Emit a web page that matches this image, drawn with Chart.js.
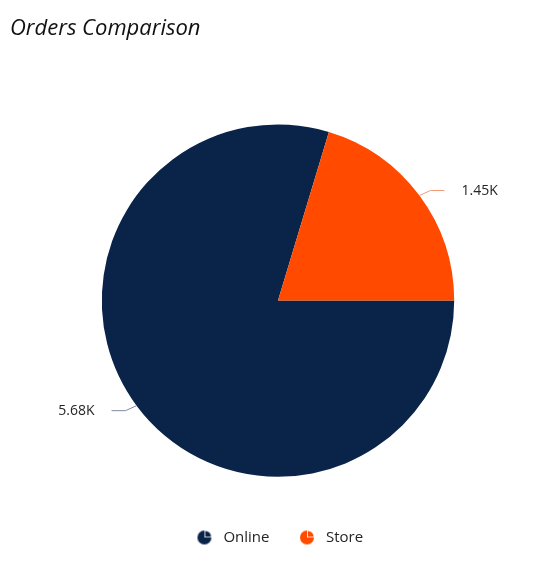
<!DOCTYPE html>
<html>
<head>
<meta charset="utf-8">
<script src="https://cdn.jsdelivr.net/npm/chart.js@4"></script>
<style>
html,body{margin:0;padding:0;background:#fff;}
#wrap{width:550px;height:577px;position:relative;}
</style>
</head>
<body>
<div id="wrap"><canvas id="c"></canvas></div>
<script>
const categories = ["Online", "Store"];
const orderValues = [5680, 1450];
const valueLabels = ["5.68K", "1.45K"];
const sliceColors = ["#0A2349", "#FF4A00"];
const leaderColors = ["#7F8A9E", "#F39A75"];
const titleText = "Orders Comparison";

function makeIcon(color) {
  const s = 16, c = document.createElement('canvas');
  c.width = s; c.height = s;
  const g = c.getContext('2d');
  const cx = 8, cy = 8, r = 7;
  g.fillStyle = color;
  g.beginPath(); g.moveTo(cx, cy); g.arc(cx, cy, r, 0, 1.5 * Math.PI, false); g.closePath(); g.fill();
  g.beginPath(); g.moveTo(cx + 0.8, cy - 0.8); g.arc(cx + 0.8, cy - 0.8, r - 1.2, 1.5 * Math.PI, 2 * Math.PI, false); g.closePath(); g.fill();
  return c;
}

const leaderPlugin = {
  id: 'leaders',
  afterDatasetsDraw(chart) {
    const ctx = chart.ctx;
    const meta = chart.getDatasetMeta(0);
    meta.data.forEach((arc, i) => {
      const p = arc.getProps(['x', 'y', 'startAngle', 'endAngle', 'outerRadius'], true);
      const mid = (p.startAngle + p.endAngle) / 2;
      const dx = Math.cos(mid), dy = Math.sin(mid);
      const x1 = p.x + dx * p.outerRadius, y1 = p.y + dy * p.outerRadius;
      const sx = dx >= 0 ? 1 : -1, sy = dy >= 0 ? 1 : -1;
      const x2 = x1 + sx * 11, y2 = y1 + sy * 5;
      const x3 = x2 + sx * 14;
      ctx.save();
      ctx.strokeStyle = leaderColors[i];
      ctx.lineWidth = 1;
      ctx.beginPath(); ctx.moveTo(x1, y1); ctx.lineTo(x2, y2); ctx.lineTo(x3, y2); ctx.stroke();
      ctx.fillStyle = '#252423';
      ctx.font = '14px "Segoe UI", "Open Sans", sans-serif';
      ctx.textBaseline = 'middle';
      ctx.textAlign = sx > 0 ? 'left' : 'right';
      ctx.fillText(valueLabels[i], x3 + sx * 17, y2);
      ctx.restore();
    });
  }
};

new Chart(document.getElementById('c'), {
  type: 'pie',
  data: {
    labels: categories,
    datasets: [{
      data: orderValues,
      backgroundColor: sliceColors,
      borderWidth: 0,
      hoverOffset: 0
    }]
  },
  plugins: [leaderPlugin],
  options: {
    responsive: true,
    maintainAspectRatio: false,
    animation: false,
    devicePixelRatio: 1,
    rotation: 90,
    layout: { padding: { left: 10, right: 4, top: 0, bottom: 22 } },
    plugins: {
      tooltip: { enabled: false },
      title: {
        display: true,
        text: titleText,
        align: 'start',
        color: '#111',
        font: { family: '"Segoe UI", "Open Sans", sans-serif', size: 22, style: 'italic', weight: 'normal' },
        padding: { top: 16, bottom: 82 }
      },
      legend: {
        display: true,
        position: 'bottom',
        title: { display: true, text: ' ', font: { size: 1 }, padding: 13 },
        labels: {
          usePointStyle: true,
          pointStyleWidth: 23,
          color: '#252423',
          font: { family: '"Segoe UI", "Open Sans", sans-serif', size: 15 },
          padding: 26,
          generateLabels(chart) {
            return categories.map((name, i) => ({
              text: name,
              fillStyle: sliceColors[i],
              strokeStyle: sliceColors[i],
              lineWidth: 0,
              pointStyle: makeIcon(sliceColors[i]),
              hidden: false,
              index: i,
              fontColor: '#252423'
            }));
          }
        }
      }
    }
  }
});
</script>
</body>
</html>
